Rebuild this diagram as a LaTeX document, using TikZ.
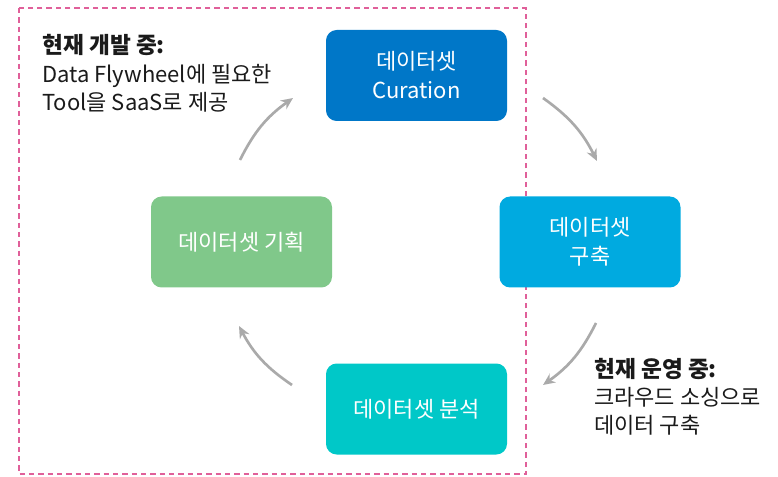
\documentclass[tikz,border=0pt]{standalone}
\usepackage{fontspec}
\setmainfont{Noto Sans CJK KR}
\usetikzlibrary{arrows.meta}
\definecolor{pinkd}{HTML}{E0609A}
\definecolor{cdark}{HTML}{0077C8}
\definecolor{clight}{HTML}{00AAE0}
\definecolor{cteal}{HTML}{00C8C8}
\definecolor{cgreen}{HTML}{80C88A}
\definecolor{arrowg}{HTML}{AAAAAA}
\definecolor{txt}{HTML}{1A1A1A}
\tikzset{
  box/.style={rounded corners=8pt, minimum width=181*0.75pt, minimum height=91*0.75pt,
    inner sep=0pt, text=white, align=center, font=\fontsize{16.5}{21.75}\selectfont},
  cyc/.style={draw=arrowg, line width=2pt, -{Stealth[length=9pt,width=8pt]}},
  lbl/.style={anchor=base west, inner sep=0pt, text=txt, font=\fontsize{16.5}{21}\selectfont},
  lblb/.style={lbl, font=\fontsize{17}{21}\selectfont\bfseries}
}
\begin{document}
\begin{tikzpicture}[x=0.75pt,y=-0.75pt]
\useasboundingbox (0,0) rectangle (778,477);
\draw[pinkd, line width=1pt, dash pattern=on 4pt off 3pt] (19,8) rectangle (526,474);
\node[box, fill=cdark] (cur) at (416.5,75.5) {데이터셋\\Curation};
\node[box, fill=clight] (bld) at (590,242) {데이터셋\\구축};
\node[box, fill=cteal] (ana) at (416.5,409) {데이터셋 분석};
\node[box, fill=cgreen] (pln) at (241.5,242) {데이터셋 기획};
\coordinate (a1s) at (240,160); \coordinate (a1e) at (293,98);
\coordinate (a2s) at (543,98);  \coordinate (a2e) at (597,161);
\coordinate (a3s) at (596,323); \coordinate (a3e) at (543,385);
\coordinate (a4s) at (292,385); \coordinate (a4e) at (239,326);
\draw[cyc] (a1s) to[bend left=14] (a1e);
\draw[cyc] (a2s) to[bend left=14] (a2e);
\draw[cyc] (a3s) to[bend left=14] (a3e);
\draw[cyc] (a4s) to[bend left=14] (a4e);
\node[lblb] (t1) at (42,54) {현재 개발 중:};
\node[lbl] (t2) at (42,83) {Data Flywheel에 필요한};
\node[lbl] (t3) at (42,111) {Tool을 SaaS로 제공};
\node[lblb] (r1) at (594,377) {현재 운영 중:};
\node[lbl] (r2) at (594,405) {크라우드 소싱으로};
\node[lbl] (r3) at (594,433) {데이터 구축};
\end{tikzpicture}
\end{document}
